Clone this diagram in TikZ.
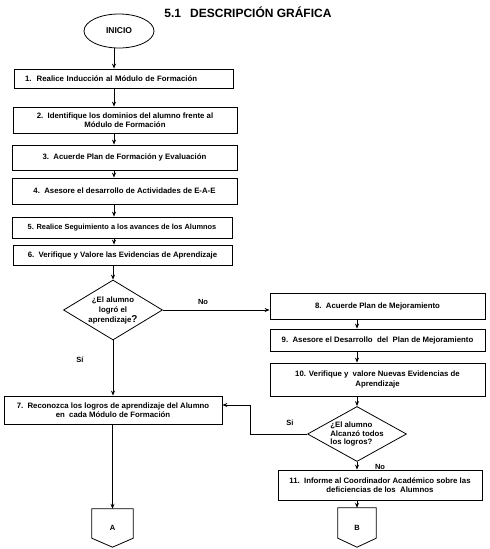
\documentclass[tikz,border=0pt]{standalone}
\usepackage{fontspec}
\setmainfont{Liberation Sans}
\usetikzlibrary{shapes.geometric,arrows.meta}
\begin{document}
\begin{tikzpicture}[x=1pt,y=-1pt,
  box/.style={draw,line width=0.8pt,inner sep=0pt,align=center,font=\fontsize{7.8}{9.5}\selectfont\bfseries},
  arr/.style={line width=0.8pt,-{Stealth[length=5pt,width=4pt]}},
  dia/.style={draw,diamond,line width=0.8pt,inner sep=0pt},
  txt/.style={font=\fontsize{7.8}{10}\selectfont\bfseries,align=center},
  lab/.style={font=\fontsize{7.5}{8}\selectfont\bfseries,inner sep=0pt},
  conn/.style={inner sep=0pt,font=\fontsize{7.5}{8}\selectfont\bfseries}]
\useasboundingbox (0,0) rectangle (490,549);
\coordinate (col) at (114,0);
% title
\node[font=\fontsize{12}{14}\selectfont\bfseries] (title) at (248,12) {5.1\hspace{9pt}DESCRIPCIÓN GRÁFICA};
% start
\node[draw,ellipse,line width=0.8pt,minimum width=70pt,minimum height=34pt,inner sep=0pt,font=\fontsize{8.5}{10}\selectfont\bfseries] (inicio) at (119,31) {INICIO};
% left column
\node[box,minimum height=19pt,text width=197pt,inner xsep=11pt,align=left] (b1) at (123.5,78.5) {1.\ \ Realice Inducción al Módulo de Formación};
\node[box,minimum width=224pt,minimum height=26pt] (b2) at (125,120) {2.\ \ Identifique los dominios del alumno frente al\\Módulo de Formación};
\node[box,minimum width=225pt,minimum height=25pt] (b3) at (124.5,157.5) {3.\ \ Acuerde Plan de Formación y Evaluación};
\node[box,minimum width=225pt,minimum height=26pt] (b4) at (124.5,191) {4.\ \ Asesore el desarrollo de Actividades de E-A-E};
\node[box,minimum width=220pt,minimum height=21pt,font=\fontsize{7.4}{9}\selectfont\bfseries] (b5) at (122,227.5) {5. Realice Seguimiento a los avances de los Alumnos};
\node[box,minimum width=219pt,minimum height=20pt] (b6) at (122.5,255) {6.\ \ Verifique y Valore las Evidencias de Aprendizaje};
\node[dia,minimum width=99pt,minimum height=60pt,label={[txt]center:¿El alumno\\logró el\\aprendizaje{\fontsize{10}{10}\selectfont?}}] (d1) at (113,310) {};
\node[box,minimum width=218pt,minimum height=28pt] (b7) at (113,410) {7.\ \ Reconozca los logros de aprendizaje del Alumno\\en\ \ cada Módulo de Formación};
% right column
\node[box,minimum width=215pt,minimum height=26pt] (b8) at (377.5,306) {8.\ \ Acuerde Plan de Mejoramiento};
\node[box,minimum width=215pt,minimum height=22pt] (b9) at (377.5,340) {9.\ \ Asesore el Desarrollo\ \ del\ \ Plan de Mejoramiento};
\node[box,minimum width=215pt,minimum height=33pt] (b10) at (377.5,379.5) {10. Verifique y\ \ valore Nuevas Evidencias de\\Aprendizaje};
\node[dia,minimum width=99pt,minimum height=55pt,label={[txt,align=left,font=\fontsize{7.8}{8.5}\selectfont\bfseries]center:¿El alumno\\Alcanzó todos\\los logros?}] (d2) at (357,434) {};
\node[box,minimum width=204pt,minimum height=30pt] (b11) at (380,485) {11.\ \ Informe al Coordinador Académico sobre las\\deficiencias de los\ \ Alumnos};
% off-page connectors
\node[conn,minimum width=41pt,minimum height=38pt] (A) at (112.5,528) {A};
\node[conn,minimum width=38pt,minimum height=39pt] (B) at (357,527.5) {B};
\foreach \c in {A,B}{
  \draw[line width=0.8pt] (\c.north west) -- (\c.north east) -- ([yshift=9pt]\c.south east) -- (\c.south) -- ([yshift=9pt]\c.south west) -- cycle;
}
% labels
\node[lab] (no1) at (203,302) {No};
\node[lab] (si1) at (80,360) {Sí};
\node[lab] (si2) at (290,423) {Si};
\node[lab] (no2) at (380,467) {No};
% connectors
\coordinate (turn) at (250,405);
\draw[arr] (inicio.south -| col) -- (b1.north -| col);
\draw[arr] (b1.south -| col) -- (b2.north -| col);
\draw[arr] (b2.south -| col) -- (b3.north -| col);
\draw[arr] (b3.south -| col) -- (b4.north -| col);
\draw[arr] (b4.south -| col) -- (b5.north -| col);
\draw[arr] (b5.south -| col) -- (b6.north -| col);
\draw[arr] (b6.south -| d1.north) -- (d1.north);
\draw[arr] (d1.east) -- (d1.east -| b8.west);
\draw[arr] (d1.south) -- (b7.north -| d1.south);
\draw[arr] (b7.south -| A.north) -- (A.north);
\draw[arr] (b8.south -| d2.north) -- (b9.north -| d2.north);
\draw[arr] (b9.south -| d2.north) -- (b10.north -| d2.north);
\draw[arr] (b10.south -| d2.north) -- (d2.north);
\draw[arr] (d2.west) -| (turn) -- (turn -| b7.east);
\draw[arr] (d2.south) -- (b11.north -| d2.south);
\draw[arr] (b11.south -| B.north) -- (B.north);
\end{tikzpicture}
\end{document}
